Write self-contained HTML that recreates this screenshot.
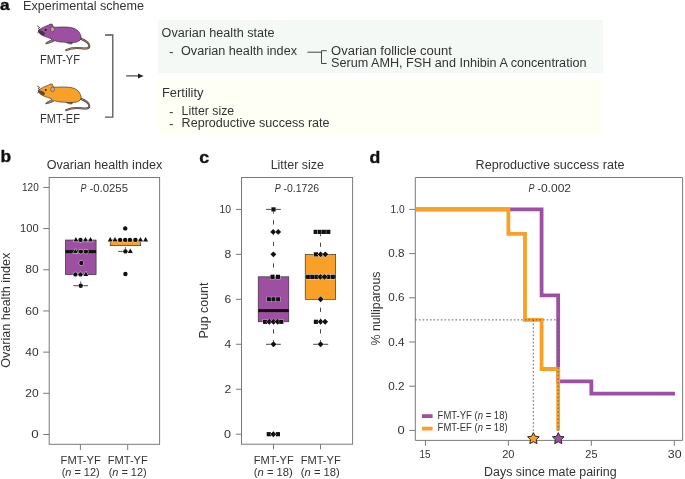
<!DOCTYPE html>
<html><head><meta charset="utf-8"><style>
html,body{margin:0;padding:0;background:#fff;width:685px;height:479px;overflow:hidden}
svg{display:block;font-family:"Liberation Sans", sans-serif;will-change:transform}
</style></head><body>
<svg width="685" height="479" viewBox="0 0 685 479">
<rect width="685" height="479" fill="#fff"/>
<text x="0" y="9.5" font-size="14" font-weight="700" fill="#111" text-anchor="start" textLength="9.6" lengthAdjust="spacingAndGlyphs" stroke="#111" stroke-width="0.35">a</text>
<text x="23" y="9.5" font-size="12.3" font-weight="400" fill="#333333" text-anchor="start" textLength="121" lengthAdjust="spacingAndGlyphs" >Experimental scheme</text>
<g transform="translate(0,0)"><path d="M80,38.5 C84.5,40 88.6,42.5 89.3,45.6 C89.8,48.4 86.5,48.9 81.5,48.2 C76,47.6 70,48.2 66.2,50.2" fill="none" stroke="#3a3030" stroke-width="1.9" stroke-linecap="round"/><path d="M80,38.5 C84.5,40 88.6,42.5 89.3,45.6 C89.8,48.4 86.5,48.9 81.5,48.2 C76,47.6 70,48.2 66.2,50.2" fill="none" stroke="#ab9385" stroke-width="0.9" stroke-linecap="round"/><path d="M65.5,41.6 C67,43.4 69,44.2 72,44 L72.6,42.2 Z" fill="#8a7468" stroke="#2a2228" stroke-width="0.5"/><path d="M38.2,30.4 C39.6,29.4 41.5,28.2 43.5,27.2 C45.5,26.3 47.2,25.6 48.8,25 C49.3,24.2 50.6,23.8 52.2,24.2 C52.8,25 53,26 53.4,27.1 C55.5,27.3 57.5,27.1 61,27 C66,26.8 71,27.2 74.5,28.5 C78,30 80.7,33.5 81.2,37 C81.4,39.6 79.5,41.3 76,42.2 C72,42.8 66,42.4 60.7,42 C57.5,41.6 55.8,41.2 54.6,40.8 C53,41.8 50.5,42.8 45.8,43.8 C45.6,42.7 47.8,41.5 50.6,40.4 C51.2,39.9 51.6,39.5 52,39.2 C50.2,38.2 48,37.4 46,36.9 C43.5,36.2 41,34.8 39.6,33.4 C38.8,32.5 38.3,31.5 38.2,30.4 Z" fill="#9d50a2" stroke="#2a2228" stroke-width="0.6"/><path d="M45.8,43.8 C48,43.5 51,42.4 53.4,41 L52,39.9 C49.8,41.1 46.8,42.3 45.8,43.8 Z" fill="#ab9385" stroke="#3a3030" stroke-width="0.4"/><ellipse cx="52.5" cy="29.3" rx="1.9" ry="2.4" fill="#caa99a" stroke="#3a3030" stroke-width="0.5"/><circle cx="45.7" cy="29.9" r="0.95" fill="#111"/><path d="M38.2,30.2 C40,30.4 42.5,30.9 44,32 C45.2,33 45,34.6 44,35.4 C42.2,35 40.4,34 39.4,33 C38.7,32.2 38.3,31.3 38.2,30.2 Z" fill="#2a1f24" opacity="0.7"/><path d="M37.2,26 L39.6,27.4 L38.2,28.6 L40.2,29.6 M38.8,31.8 L37.4,33" fill="none" stroke="#222" stroke-width="0.75"/><path d="M43.4,36 L43.6,37.6 M45.2,36.6 L45.6,38 M47.2,37.2 L47.2,38.2" stroke="#ddd" stroke-width="0.5"/></g>
<g transform="translate(0,60)"><path d="M80,38.5 C84.5,40 88.6,42.5 89.3,45.6 C89.8,48.4 86.5,48.9 81.5,48.2 C76,47.6 70,48.2 66.2,50.2" fill="none" stroke="#3a3030" stroke-width="1.9" stroke-linecap="round"/><path d="M80,38.5 C84.5,40 88.6,42.5 89.3,45.6 C89.8,48.4 86.5,48.9 81.5,48.2 C76,47.6 70,48.2 66.2,50.2" fill="none" stroke="#ab9385" stroke-width="0.9" stroke-linecap="round"/><path d="M65.5,41.6 C67,43.4 69,44.2 72,44 L72.6,42.2 Z" fill="#8a7468" stroke="#2a2228" stroke-width="0.5"/><path d="M38.2,30.4 C39.6,29.4 41.5,28.2 43.5,27.2 C45.5,26.3 47.2,25.6 48.8,25 C49.3,24.2 50.6,23.8 52.2,24.2 C52.8,25 53,26 53.4,27.1 C55.5,27.3 57.5,27.1 61,27 C66,26.8 71,27.2 74.5,28.5 C78,30 80.7,33.5 81.2,37 C81.4,39.6 79.5,41.3 76,42.2 C72,42.8 66,42.4 60.7,42 C57.5,41.6 55.8,41.2 54.6,40.8 C53,41.8 50.5,42.8 45.8,43.8 C45.6,42.7 47.8,41.5 50.6,40.4 C51.2,39.9 51.6,39.5 52,39.2 C50.2,38.2 48,37.4 46,36.9 C43.5,36.2 41,34.8 39.6,33.4 C38.8,32.5 38.3,31.5 38.2,30.4 Z" fill="#f8a028" stroke="#2a2228" stroke-width="0.6"/><path d="M45.8,43.8 C48,43.5 51,42.4 53.4,41 L52,39.9 C49.8,41.1 46.8,42.3 45.8,43.8 Z" fill="#ab9385" stroke="#3a3030" stroke-width="0.4"/><ellipse cx="52.5" cy="29.3" rx="1.9" ry="2.4" fill="#caa99a" stroke="#3a3030" stroke-width="0.5"/><circle cx="45.7" cy="29.9" r="0.95" fill="#111"/><path d="M38.2,30.2 C40,30.4 42.5,30.9 44,32 C45.2,33 45,34.6 44,35.4 C42.2,35 40.4,34 39.4,33 C38.7,32.2 38.3,31.3 38.2,30.2 Z" fill="#2a1f24" opacity="0.7"/><path d="M37.2,26 L39.6,27.4 L38.2,28.6 L40.2,29.6 M38.8,31.8 L37.4,33" fill="none" stroke="#222" stroke-width="0.75"/><path d="M43.4,36 L43.6,37.6 M45.2,36.6 L45.6,38 M47.2,37.2 L47.2,38.2" stroke="#ddd" stroke-width="0.5"/></g>
<text x="40" y="63.5" font-size="12.3" font-weight="400" fill="#333333" text-anchor="start" textLength="40" lengthAdjust="spacingAndGlyphs" >FMT-YF</text>
<text x="40" y="122.6" font-size="12.3" font-weight="400" fill="#333333" text-anchor="start" textLength="40" lengthAdjust="spacingAndGlyphs" >FMT-EF</text>
<path d="M105,35 H112.8 V117.2 H105" fill="none" stroke="#555" stroke-width="1.3"/>
<path d="M126.2,75.9 H139" stroke="#444" stroke-width="1.2"/>
<path d="M138,73.6 L143.6,75.9 L138,78.4 Z" fill="#222"/>
<rect x="158" y="20" width="445" height="53" fill="#f4f9f5"/>
<rect x="158" y="80" width="445" height="55" fill="#fefff5"/>
<text x="161.6" y="36.8" font-size="12.3" font-weight="400" fill="#333333" text-anchor="start" textLength="113" lengthAdjust="spacingAndGlyphs" >Ovarian health state</text>
<text x="169.3" y="55.6" font-size="12.3" font-weight="400" fill="#333333" text-anchor="start" >-</text>
<text x="181" y="55" font-size="12.3" font-weight="400" fill="#333333" text-anchor="start" textLength="116" lengthAdjust="spacingAndGlyphs" >Ovarian health index</text>
<path d="M307.4,52.2 H321.5 M326.7,50.7 H321.5 V63.5 H326.7" fill="none" stroke="#444" stroke-width="1"/>
<text x="331" y="54.5" font-size="12.3" font-weight="400" fill="#333333" text-anchor="start" textLength="121" lengthAdjust="spacingAndGlyphs" >Ovarian follicle count</text>
<text x="331" y="66.8" font-size="12.3" font-weight="400" fill="#333333" text-anchor="start" textLength="255.5" lengthAdjust="spacingAndGlyphs" >Serum AMH, FSH and Inhibin A concentration</text>
<text x="162" y="97" font-size="12.3" font-weight="400" fill="#333333" text-anchor="start" textLength="41.5" lengthAdjust="spacingAndGlyphs" >Fertility</text>
<text x="169.3" y="115.5" font-size="12.3" font-weight="400" fill="#333333" text-anchor="start" >-</text>
<text x="181.6" y="114.8" font-size="12.3" font-weight="400" fill="#333333" text-anchor="start" textLength="52.6" lengthAdjust="spacingAndGlyphs" >Litter size</text>
<text x="169.3" y="128.0" font-size="12.3" font-weight="400" fill="#333333" text-anchor="start" >-</text>
<text x="181.6" y="127.3" font-size="12.3" font-weight="400" fill="#333333" text-anchor="start" textLength="148" lengthAdjust="spacingAndGlyphs" >Reproductive success rate</text>
<text x="0.6" y="162.4" font-size="15.8" font-weight="700" fill="#111" text-anchor="start" textLength="10.6" lengthAdjust="spacingAndGlyphs" stroke="#111" stroke-width="0.35">b</text>
<text x="46.7" y="168.8" font-size="12.3" font-weight="400" fill="#333333" text-anchor="start" textLength="115.5" lengthAdjust="spacingAndGlyphs" >Ovarian health index</text>
<rect x="49.2" y="177.5" width="110.4" height="266.8" fill="none" stroke="#7a7a7a" stroke-width="1"/>
<path d="M43.2,434.50 H49.2" stroke="#7a7a7a" stroke-width="1"/>
<text x="38.7" y="438.1" font-size="10.5" font-weight="400" fill="#333333" text-anchor="end" textLength="7.4" lengthAdjust="spacingAndGlyphs" >0</text>
<path d="M43.2,393.32 H49.2" stroke="#7a7a7a" stroke-width="1"/>
<text x="38.7" y="396.92" font-size="10.5" font-weight="400" fill="#333333" text-anchor="end" textLength="13.4" lengthAdjust="spacingAndGlyphs" >20</text>
<path d="M43.2,352.14 H49.2" stroke="#7a7a7a" stroke-width="1"/>
<text x="38.7" y="355.74" font-size="10.5" font-weight="400" fill="#333333" text-anchor="end" textLength="13.4" lengthAdjust="spacingAndGlyphs" >40</text>
<path d="M43.2,310.96 H49.2" stroke="#7a7a7a" stroke-width="1"/>
<text x="38.7" y="314.56" font-size="10.5" font-weight="400" fill="#333333" text-anchor="end" textLength="13.4" lengthAdjust="spacingAndGlyphs" >60</text>
<path d="M43.2,269.78 H49.2" stroke="#7a7a7a" stroke-width="1"/>
<text x="38.7" y="273.38" font-size="10.5" font-weight="400" fill="#333333" text-anchor="end" textLength="13.4" lengthAdjust="spacingAndGlyphs" >80</text>
<path d="M43.2,228.60 H49.2" stroke="#7a7a7a" stroke-width="1"/>
<text x="38.7" y="232.2" font-size="10.5" font-weight="400" fill="#333333" text-anchor="end" textLength="18.6" lengthAdjust="spacingAndGlyphs" >100</text>
<path d="M43.2,187.42 H49.2" stroke="#7a7a7a" stroke-width="1"/>
<text x="38.7" y="191.01999999999998" font-size="10.5" font-weight="400" fill="#333333" text-anchor="end" textLength="16.7" lengthAdjust="spacingAndGlyphs" >120</text>
<path d="M80.4,444.3 V450 M127.7,444.3 V450" stroke="#7a7a7a" stroke-width="1"/>
<text x="10.2" y="310.2" font-size="12.3" fill="#333333" text-anchor="middle" transform="rotate(-90 10.2 310.2)" textLength="115" lengthAdjust="spacingAndGlyphs">Ovarian health index</text>
<text x="80.7" y="464" font-size="11" font-weight="400" fill="#333333" text-anchor="middle" textLength="40.2" lengthAdjust="spacingAndGlyphs" >FMT-YF</text>
<text x="127.75" y="464" font-size="11" font-weight="400" fill="#333333" text-anchor="middle" textLength="40.2" lengthAdjust="spacingAndGlyphs" >FMT-YF</text>
<text x="80.65" y="475.6" font-size="11" fill="#333333" text-anchor="middle" textLength="38" lengthAdjust="spacingAndGlyphs">(<tspan font-style="italic">n</tspan> = 12)</text>
<text x="127.65" y="475.6" font-size="11" fill="#333333" text-anchor="middle" textLength="38" lengthAdjust="spacingAndGlyphs">(<tspan font-style="italic">n</tspan> = 12)</text>
<text x="80.4" y="192.1" font-size="10.2" font-style="italic" fill="#333333" textLength="6.0" lengthAdjust="spacingAndGlyphs">P</text>
<text x="89.7" y="192.1" font-size="10.2" fill="#333333">-</text>
<text x="93.25" y="192.1" font-size="10.2" fill="#333333" textLength="34.7" lengthAdjust="spacingAndGlyphs">0.0255</text>
<path d="M80.7,285.7 V274.6" stroke="#333" stroke-width="0.9" stroke-dasharray="4.2 6.6"/>
<path d="M73.4,285.7 H88" stroke="#333" stroke-width="0.9"/>
<rect x="65.4" y="240" width="30.7" height="34.6" fill="#9d50a2" stroke="#222" stroke-width="0.6"/>
<rect x="65.4" y="250.1" width="30.7" height="3" fill="#111"/>
<path d="M75.9,237.11 L78.4,241.61 L73.4,241.61 Z" fill="#111" stroke="#fff" stroke-width="0.9" paint-order="stroke"/><circle cx="80.5" cy="239.9" r="2.2" fill="#111" stroke="#fff" stroke-width="0.9" paint-order="stroke"/><path d="M85.5,237.11 L88.0,241.61 L83.0,241.61 Z" fill="#111" stroke="#fff" stroke-width="0.9" paint-order="stroke"/><path d="M90.5,237.11 L93.0,241.61 L88.0,241.61 Z" fill="#111" stroke="#fff" stroke-width="0.9" paint-order="stroke"/><path d="M75.4,248.81 L77.9,253.31 L72.9,253.31 Z" fill="#111" stroke="#fff" stroke-width="0.9" paint-order="stroke"/><circle cx="80.9" cy="251.6" r="2.2" fill="#111" stroke="#fff" stroke-width="0.9" paint-order="stroke"/><circle cx="85.9" cy="251.6" r="2.2" fill="#111" stroke="#fff" stroke-width="0.9" paint-order="stroke"/><circle cx="81.3" cy="263" r="2.2" fill="#111" stroke="#fff" stroke-width="0.9" paint-order="stroke"/><circle cx="75.4" cy="274.4" r="2.2" fill="#111" stroke="#fff" stroke-width="0.9" paint-order="stroke"/><circle cx="80.5" cy="274.4" r="2.2" fill="#111" stroke="#fff" stroke-width="0.9" paint-order="stroke"/><path d="M85.9,271.60999999999996 L88.4,276.10999999999996 L83.4,276.10999999999996 Z" fill="#111" stroke="#fff" stroke-width="0.9" paint-order="stroke"/><circle cx="80.7" cy="285.7" r="2.2" fill="#111" stroke="#fff" stroke-width="0.9" paint-order="stroke"/>
<path d="M125.4,251.4 V245.7" stroke="#333" stroke-width="0.9" stroke-dasharray="4.2 6.6"/><path d="M118.2,251.4 H132" stroke="#333" stroke-width="0.9"/>
<rect x="110.2" y="240" width="30.5" height="5.7" fill="#f8a028" stroke="#222" stroke-width="0.6"/>
<circle cx="125.2" cy="228.4" r="2.2" fill="#111" stroke="#fff" stroke-width="0.9" paint-order="stroke"/><path d="M110.2,237.11 L112.7,241.61 L107.7,241.61 Z" fill="#111" stroke="#fff" stroke-width="0.9" paint-order="stroke"/><path d="M115,237.11 L117.5,241.61 L112.5,241.61 Z" fill="#111" stroke="#fff" stroke-width="0.9" paint-order="stroke"/><circle cx="120.1" cy="239.9" r="2.2" fill="#111" stroke="#fff" stroke-width="0.9" paint-order="stroke"/><circle cx="125.2" cy="239.9" r="2.2" fill="#111" stroke="#fff" stroke-width="0.9" paint-order="stroke"/><circle cx="129.9" cy="239.9" r="2.2" fill="#111" stroke="#fff" stroke-width="0.9" paint-order="stroke"/><circle cx="135.4" cy="239.9" r="2.2" fill="#111" stroke="#fff" stroke-width="0.9" paint-order="stroke"/><path d="M140.5,237.11 L143.0,241.61 L138.0,241.61 Z" fill="#111" stroke="#fff" stroke-width="0.9" paint-order="stroke"/><path d="M145.6,237.11 L148.1,241.61 L143.1,241.61 Z" fill="#111" stroke="#fff" stroke-width="0.9" paint-order="stroke"/><circle cx="125.4" cy="251.4" r="2.2" fill="#111" stroke="#fff" stroke-width="0.9" paint-order="stroke"/><path d="M130.3,248.61 L132.8,253.11 L127.80000000000001,253.11 Z" fill="#111" stroke="#fff" stroke-width="0.9" paint-order="stroke"/><circle cx="125.4" cy="274" r="2.2" fill="#111" stroke="#fff" stroke-width="0.9" paint-order="stroke"/>
<text x="199.3" y="163.1" font-size="16" font-weight="700" fill="#111" text-anchor="start" textLength="9.9" lengthAdjust="spacingAndGlyphs" stroke="#111" stroke-width="0.35">c</text>
<text x="270.7" y="168.9" font-size="12.3" font-weight="400" fill="#333333" text-anchor="start" textLength="53.2" lengthAdjust="spacingAndGlyphs" >Litter size</text>
<rect x="241.5" y="177.5" width="111.1" height="266.7" fill="none" stroke="#7a7a7a" stroke-width="1"/>
<path d="M235.9,434.20 H241.5" stroke="#7a7a7a" stroke-width="1"/>
<text x="231.1" y="437.8" font-size="10.5" font-weight="400" fill="#333333" text-anchor="end" textLength="7.0" lengthAdjust="spacingAndGlyphs" >0</text>
<path d="M235.9,389.24 H241.5" stroke="#7a7a7a" stroke-width="1"/>
<text x="231.1" y="392.84000000000003" font-size="10.5" font-weight="400" fill="#333333" text-anchor="end" textLength="6.7" lengthAdjust="spacingAndGlyphs" >2</text>
<path d="M235.9,344.28 H241.5" stroke="#7a7a7a" stroke-width="1"/>
<text x="231.1" y="347.88" font-size="10.5" font-weight="400" fill="#333333" text-anchor="end" textLength="6.7" lengthAdjust="spacingAndGlyphs" >4</text>
<path d="M235.9,299.32 H241.5" stroke="#7a7a7a" stroke-width="1"/>
<text x="231.1" y="302.92" font-size="10.5" font-weight="400" fill="#333333" text-anchor="end" textLength="6.7" lengthAdjust="spacingAndGlyphs" >6</text>
<path d="M235.9,254.36 H241.5" stroke="#7a7a7a" stroke-width="1"/>
<text x="231.1" y="257.96" font-size="10.5" font-weight="400" fill="#333333" text-anchor="end" textLength="6.7" lengthAdjust="spacingAndGlyphs" >8</text>
<path d="M235.9,209.40 H241.5" stroke="#7a7a7a" stroke-width="1"/>
<text x="231.1" y="212.99999999999997" font-size="10.5" font-weight="400" fill="#333333" text-anchor="end" textLength="11.6" lengthAdjust="spacingAndGlyphs" >10</text>
<path d="M273.5,444.2 V449.3 M320.5,444.2 V449.3" stroke="#7a7a7a" stroke-width="1"/>
<text x="208.4" y="310.5" font-size="12.3" fill="#333333" text-anchor="middle" transform="rotate(-90 208.4 310.5)" textLength="56" lengthAdjust="spacingAndGlyphs">Pup count</text>
<text x="273.7" y="463.6" font-size="11" font-weight="400" fill="#333333" text-anchor="middle" textLength="40" lengthAdjust="spacingAndGlyphs" >FMT-YF</text>
<text x="320.7" y="463.6" font-size="11" font-weight="400" fill="#333333" text-anchor="middle" textLength="40" lengthAdjust="spacingAndGlyphs" >FMT-YF</text>
<text x="273.3" y="475.8" font-size="11" fill="#333333" text-anchor="middle" textLength="39" lengthAdjust="spacingAndGlyphs">(<tspan font-style="italic">n</tspan> = 18)</text>
<text x="320.3" y="475.8" font-size="11" fill="#333333" text-anchor="middle" textLength="39" lengthAdjust="spacingAndGlyphs">(<tspan font-style="italic">n</tspan> = 18)</text>
<text x="274.8" y="192.0" font-size="10.2" font-style="italic" fill="#333333" textLength="6.0" lengthAdjust="spacingAndGlyphs">P</text>
<text x="283.5" y="192.0" font-size="10.2" fill="#333333">-</text>
<text x="287.05" y="192.0" font-size="10.2" fill="#333333" textLength="32.0" lengthAdjust="spacingAndGlyphs">0.1726</text>
<path d="M273.5,209.40 V276.8 M273.5,344.3 V321.8" stroke="#333" stroke-width="0.9" stroke-dasharray="4.2 6.6"/>
<path d="M266,209.40 H280.8 M266,344.3 H280.8" stroke="#333" stroke-width="0.9"/>
<rect x="258.2" y="276.8" width="30.6" height="45" fill="#9d50a2" stroke="#222" stroke-width="0.6"/>
<rect x="258.2" y="309.1" width="30.6" height="3" fill="#111"/>
<rect x="271.4" y="207.29999999999998" width="4.2" height="4.2" fill="#111" stroke="#fff" stroke-width="0.6" paint-order="stroke"/><path d="M273.2,228.93 L276.15,231.88 L273.2,234.82999999999998 L270.25,231.88 Z" fill="#111" stroke="#fff" stroke-width="0.6" paint-order="stroke"/><path d="M278.2,228.93 L281.15,231.88 L278.2,234.82999999999998 L275.25,231.88 Z" fill="#111" stroke="#fff" stroke-width="0.6" paint-order="stroke"/><path d="M273.4,251.41 L276.34999999999997,254.35999999999999 L273.4,257.31 L270.45,254.35999999999999 Z" fill="#111" stroke="#fff" stroke-width="0.6" paint-order="stroke"/><rect x="270.4" y="274.73999999999995" width="4.2" height="4.2" fill="#111" stroke="#fff" stroke-width="0.6" paint-order="stroke"/><rect x="275.9" y="274.73999999999995" width="4.2" height="4.2" fill="#111" stroke="#fff" stroke-width="0.6" paint-order="stroke"/><rect x="266.7" y="297.21999999999997" width="4.2" height="4.2" fill="#111" stroke="#fff" stroke-width="0.6" paint-order="stroke"/><rect x="271.4" y="297.21999999999997" width="4.2" height="4.2" fill="#111" stroke="#fff" stroke-width="0.6" paint-order="stroke"/><rect x="276.09999999999997" y="297.21999999999997" width="4.2" height="4.2" fill="#111" stroke="#fff" stroke-width="0.6" paint-order="stroke"/><rect x="263.0" y="319.69999999999993" width="4.2" height="4.2" fill="#111" stroke="#fff" stroke-width="0.6" paint-order="stroke"/><path d="M269.3,318.84999999999997 L272.25,321.79999999999995 L269.3,324.74999999999994 L266.35,321.79999999999995 Z" fill="#111" stroke="#fff" stroke-width="0.6" paint-order="stroke"/><path d="M273.5,318.84999999999997 L276.45,321.79999999999995 L273.5,324.74999999999994 L270.55,321.79999999999995 Z" fill="#111" stroke="#fff" stroke-width="0.6" paint-order="stroke"/><path d="M277.7,318.84999999999997 L280.65,321.79999999999995 L277.7,324.74999999999994 L274.75,321.79999999999995 Z" fill="#111" stroke="#fff" stroke-width="0.6" paint-order="stroke"/><rect x="279.2" y="319.69999999999993" width="4.2" height="4.2" fill="#111" stroke="#fff" stroke-width="0.6" paint-order="stroke"/><path d="M273.5,341.33 L276.45,344.28 L273.5,347.22999999999996 L270.55,344.28 Z" fill="#111" stroke="#fff" stroke-width="0.6" paint-order="stroke"/><rect x="266.7" y="432.09999999999997" width="4.2" height="4.2" fill="#111" stroke="#fff" stroke-width="0.6" paint-order="stroke"/><rect x="275.79999999999995" y="432.09999999999997" width="4.2" height="4.2" fill="#111" stroke="#fff" stroke-width="0.6" paint-order="stroke"/><path d="M273.3,431.25 L276.25,434.2 L273.3,437.15 L270.35,434.2 Z" fill="#111" stroke="#fff" stroke-width="0.6" paint-order="stroke"/>
<path d="M320.5,231.88 V254.4 M320.5,344.3 V299.3" stroke="#333" stroke-width="0.9" stroke-dasharray="4.2 6.6"/>
<path d="M313.3,344.3 H328.2" stroke="#333" stroke-width="0.9"/>
<rect x="305.2" y="254.4" width="30.5" height="44.9" fill="#f8a028" stroke="#222" stroke-width="0.6"/>
<rect x="305.2" y="275.3" width="30.5" height="3" fill="#111"/>
<rect x="313.59999999999997" y="229.78" width="4.2" height="4.2" fill="#111" stroke="#fff" stroke-width="0.6" paint-order="stroke"/><rect x="317.79999999999995" y="229.78" width="4.2" height="4.2" fill="#111" stroke="#fff" stroke-width="0.6" paint-order="stroke"/><rect x="322.0" y="229.78" width="4.2" height="4.2" fill="#111" stroke="#fff" stroke-width="0.6" paint-order="stroke"/><rect x="326.2" y="229.78" width="4.2" height="4.2" fill="#111" stroke="#fff" stroke-width="0.6" paint-order="stroke"/><rect x="313.79999999999995" y="252.26" width="4.2" height="4.2" fill="#111" stroke="#fff" stroke-width="0.6" paint-order="stroke"/><path d="M320.6,251.41 L323.55,254.35999999999999 L320.6,257.31 L317.65000000000003,254.35999999999999 Z" fill="#111" stroke="#fff" stroke-width="0.6" paint-order="stroke"/><path d="M325.3,251.41 L328.25,254.35999999999999 L325.3,257.31 L322.35,254.35999999999999 Z" fill="#111" stroke="#fff" stroke-width="0.6" paint-order="stroke"/><rect x="306.09999999999997" y="274.73999999999995" width="4.2" height="4.2" fill="#111" stroke="#fff" stroke-width="0.6" paint-order="stroke"/><rect x="310.2" y="274.73999999999995" width="4.2" height="4.2" fill="#111" stroke="#fff" stroke-width="0.6" paint-order="stroke"/><rect x="314.29999999999995" y="274.73999999999995" width="4.2" height="4.2" fill="#111" stroke="#fff" stroke-width="0.6" paint-order="stroke"/><rect x="326.5" y="274.73999999999995" width="4.2" height="4.2" fill="#111" stroke="#fff" stroke-width="0.6" paint-order="stroke"/><rect x="330.59999999999997" y="274.73999999999995" width="4.2" height="4.2" fill="#111" stroke="#fff" stroke-width="0.6" paint-order="stroke"/><path d="M320.4,273.89 L323.34999999999997,276.84 L320.4,279.78999999999996 L317.45,276.84 Z" fill="#111" stroke="#fff" stroke-width="0.6" paint-order="stroke"/><path d="M324.5,273.89 L327.45,276.84 L324.5,279.78999999999996 L321.55,276.84 Z" fill="#111" stroke="#fff" stroke-width="0.6" paint-order="stroke"/><path d="M320.6,296.37 L323.55,299.32 L320.6,302.27 L317.65000000000003,299.32 Z" fill="#111" stroke="#fff" stroke-width="0.6" paint-order="stroke"/><rect x="313.79999999999995" y="319.69999999999993" width="4.2" height="4.2" fill="#111" stroke="#fff" stroke-width="0.6" paint-order="stroke"/><path d="M320.6,318.84999999999997 L323.55,321.79999999999995 L320.6,324.74999999999994 L317.65000000000003,321.79999999999995 Z" fill="#111" stroke="#fff" stroke-width="0.6" paint-order="stroke"/><path d="M325.1,318.84999999999997 L328.05,321.79999999999995 L325.1,324.74999999999994 L322.15000000000003,321.79999999999995 Z" fill="#111" stroke="#fff" stroke-width="0.6" paint-order="stroke"/><path d="M320.6,341.33 L323.55,344.28 L320.6,347.22999999999996 L317.65000000000003,344.28 Z" fill="#111" stroke="#fff" stroke-width="0.6" paint-order="stroke"/>
<text x="369.6" y="163.3" font-size="16" font-weight="700" fill="#111" text-anchor="start" textLength="10.8" lengthAdjust="spacingAndGlyphs" stroke="#111" stroke-width="0.35">d</text>
<text x="475.5" y="168.6" font-size="12.3" font-weight="400" fill="#333333" text-anchor="start" textLength="149" lengthAdjust="spacingAndGlyphs" >Reproductive success rate</text>
<path d="M415.3,177.5 H682.6 V440.4 H415.3 Z" fill="none" stroke="#7a7a7a" stroke-width="1"/>
<path d="M409.2,430.40 H415.3" stroke="#7a7a7a" stroke-width="1"/>
<text x="404.65" y="434.0" font-size="10.5" font-weight="400" fill="#333333" text-anchor="end" textLength="7.2" lengthAdjust="spacingAndGlyphs" >0</text>
<path d="M409.2,386.20 H415.3" stroke="#7a7a7a" stroke-width="1"/>
<text x="404.65" y="389.8" font-size="10.5" font-weight="400" fill="#333333" text-anchor="end" textLength="16.3" lengthAdjust="spacingAndGlyphs" >0.2</text>
<path d="M409.2,342.00 H415.3" stroke="#7a7a7a" stroke-width="1"/>
<text x="404.65" y="345.6" font-size="10.5" font-weight="400" fill="#333333" text-anchor="end" textLength="16.3" lengthAdjust="spacingAndGlyphs" >0.4</text>
<path d="M409.2,297.80 H415.3" stroke="#7a7a7a" stroke-width="1"/>
<text x="404.65" y="301.4" font-size="10.5" font-weight="400" fill="#333333" text-anchor="end" textLength="16.3" lengthAdjust="spacingAndGlyphs" >0.6</text>
<path d="M409.2,253.60 H415.3" stroke="#7a7a7a" stroke-width="1"/>
<text x="404.65" y="257.2" font-size="10.5" font-weight="400" fill="#333333" text-anchor="end" textLength="16.3" lengthAdjust="spacingAndGlyphs" >0.8</text>
<path d="M409.2,209.40 H415.3" stroke="#7a7a7a" stroke-width="1"/>
<text x="404.65" y="212.99999999999997" font-size="10.5" font-weight="400" fill="#333333" text-anchor="end" textLength="14.2" lengthAdjust="spacingAndGlyphs" >1.0</text>
<path d="M425.45,440.4 V445.8" stroke="#7a7a7a" stroke-width="1"/>
<text x="425.0" y="457.8" font-size="10.5" font-weight="400" fill="#333333" text-anchor="middle" textLength="11.0" lengthAdjust="spacingAndGlyphs" >15</text>
<path d="M508.40,440.4 V445.8" stroke="#7a7a7a" stroke-width="1"/>
<text x="508.3" y="457.8" font-size="10.5" font-weight="400" fill="#333333" text-anchor="middle" textLength="12.3" lengthAdjust="spacingAndGlyphs" >20</text>
<path d="M591.35,440.4 V445.8" stroke="#7a7a7a" stroke-width="1"/>
<text x="591.4" y="457.8" font-size="10.5" font-weight="400" fill="#333333" text-anchor="middle" textLength="12.1" lengthAdjust="spacingAndGlyphs" >25</text>
<path d="M674.30,440.4 V445.8" stroke="#7a7a7a" stroke-width="1"/>
<text x="674.65" y="457.8" font-size="10.5" font-weight="400" fill="#333333" text-anchor="middle" textLength="13.8" lengthAdjust="spacingAndGlyphs" >30</text>
<text x="484.1" y="476" font-size="12.3" font-weight="400" fill="#333333" text-anchor="start" textLength="132.5" lengthAdjust="spacingAndGlyphs" >Days since mate pairing</text>
<text x="380" y="308.5" font-size="12.3" fill="#333333" text-anchor="middle" transform="rotate(-90 380 308.5)" textLength="74" lengthAdjust="spacingAndGlyphs">% nulliparous</text>
<text x="528.5" y="192.3" font-size="10.2" font-style="italic" fill="#333333" textLength="6.0" lengthAdjust="spacingAndGlyphs">P</text>
<text x="537.4" y="192.3" font-size="10.2" fill="#333333">-</text>
<text x="540.9499999999999" y="192.3" font-size="10.2" fill="#333333" textLength="30.1" lengthAdjust="spacingAndGlyphs">0.002</text>
<path d="M415.3,209.40 H541.58 V295.34 H558.17 V381.29 H591.35 V393.57 H675" fill="none" stroke="#9d50a2" stroke-width="3.8"/>
<path d="M415.3,209.40 H508.40 V233.96 H524.99 V319.90 H541.58 V369.01 H558.17 V430.6" fill="none" stroke="#f8a028" stroke-width="3.8"/>
<path d="M415.3,319.90 H558.17 M533.28,319.90 V433 M558.17,319.90 V433" fill="none" stroke="#5f5f5f" stroke-width="1" stroke-dasharray="1.6 2.05"/>
<polygon points="533.38,432.60 535.18,436.23 539.19,436.81 536.29,439.64 536.97,443.64 533.38,441.75 529.80,443.64 530.48,439.64 527.58,436.81 531.59,436.23" fill="#f8a028" stroke="#2a2a2a" stroke-width="1" stroke-linejoin="miter"/>
<polygon points="558.27,432.60 560.06,436.23 564.07,436.81 561.17,439.64 561.86,443.64 558.27,441.75 554.68,443.64 555.37,439.64 552.47,436.81 556.48,436.23" fill="#9d50a2" stroke="#2a2a2a" stroke-width="1" stroke-linejoin="miter"/>
<path d="M421.9,416.1 H432.6" stroke="#9d50a2" stroke-width="3.8"/>
<path d="M421.9,428.6 H432.6" stroke="#f8a028" stroke-width="3.8"/>
<text x="437.6" y="418.9" font-size="10" fill="#333333" textLength="70" lengthAdjust="spacingAndGlyphs">FMT-YF (<tspan font-style="italic">n</tspan> = 18)</text>
<text x="437.6" y="431.3" font-size="10" fill="#333333" textLength="70" lengthAdjust="spacingAndGlyphs">FMT-EF (<tspan font-style="italic">n</tspan> = 18)</text>
</svg>
</body></html>
